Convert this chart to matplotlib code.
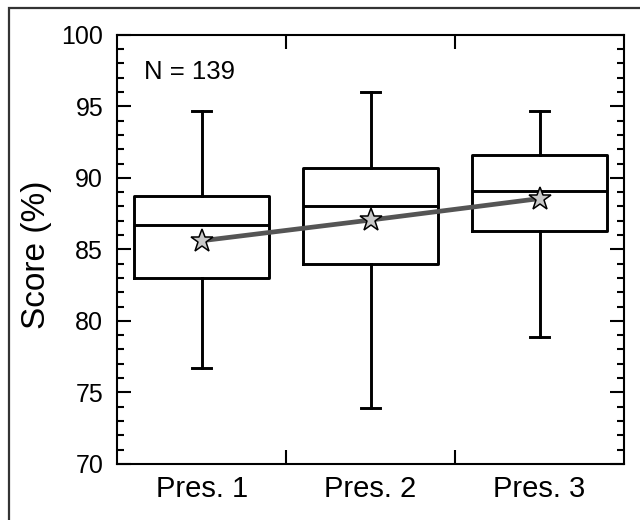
import matplotlib
matplotlib.use("Agg")
import matplotlib.pyplot as plt
from matplotlib.patches import Rectangle
from matplotlib.ticker import MultipleLocator, FixedLocator

plt.rcParams['font.family'] = ['Liberation Sans', 'DejaVu Sans']

#%% data
labels = ["Pres. 1", "Pres. 2", "Pres. 3"]
whislo = [76.7, 73.9, 78.9]
q1 = [83.0, 84.0, 86.3]
med = [86.7, 88.0, 89.1]
q3 = [88.7, 90.7, 91.6]
whishi = [94.7, 96.0, 94.7]
means = [85.6, 87.05, 88.55]
n_students = 139

#%%
stats = [dict(whislo=whislo[i], q1=q1[i], med=med[i], q3=q3[i], whishi=whishi[i],
              fliers=[], label=labels[i]) for i in range(len(labels))]
pos = list(range(1, len(labels) + 1))

fig = plt.figure(figsize=(6.4, 5.2), dpi=100)
ax = fig.add_axes([0.183, 0.108, 0.792, 0.825])

lw = 2.1
ax.bxp(stats, positions=pos, widths=0.8, showfliers=False,
       boxprops=dict(color="black", linewidth=lw),
       medianprops=dict(color="black", linewidth=lw),
       whiskerprops=dict(color="black", linewidth=lw),
       capprops=dict(color="black", linewidth=lw),
       capwidths=0.11)

ax.plot(pos, means, color="#555555", linewidth=3.4, zorder=3)
ax.plot(pos, means, linestyle="", marker="*", markersize=17,
        markerfacecolor="#c8c8c8", markeredgecolor="black",
        markeredgewidth=1.1, zorder=4)

ax.set_xlim(0.5, len(labels) + 0.5)
ax.set_ylim(70, 100)
ax.yaxis.set_major_locator(MultipleLocator(5))
ax.yaxis.set_minor_locator(MultipleLocator(1))
ax.xaxis.set_major_locator(FixedLocator(pos))
ax.xaxis.set_minor_locator(FixedLocator([1.5, 2.5]))
ax.set_xticklabels(labels)

ax.tick_params(axis="y", which="both", direction="in", left=True, right=True,
               width=1.5, labelsize=18, pad=10)
ax.tick_params(axis="y", which="major", length=10)
ax.tick_params(axis="y", which="minor", length=5)
ax.tick_params(axis="x", which="major", length=0, labelsize=21, pad=8)
ax.tick_params(axis="x", which="minor", direction="in", top=True, bottom=True,
               length=10, width=1.5)
for s in ax.spines.values():
    s.set_linewidth(1.5)

ax.set_ylabel("Score (%)", fontsize=24)
ax.yaxis.set_label_coords(-0.128, 0.487)
ax.text(0.053, 0.914, "N = %d" % n_students, transform=ax.transAxes,
        fontsize=18.5, va="center", ha="left")

# outer frame (only top and left edges fall inside the canvas)
fig.add_artist(Rectangle((9 / 640, -0.1), 1.0, (520 - 8) / 520 + 0.1,
                         transform=fig.transFigure, fill=False,
                         edgecolor="#333333", linewidth=1.6, clip_on=False))

fig.savefig("out.png", dpi=100)
